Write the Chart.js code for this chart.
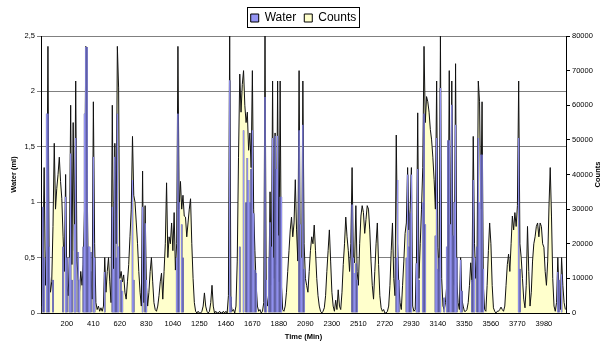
<!DOCTYPE html>
<html>
<head>
<meta charset="utf-8">
<script src="https://cdn.jsdelivr.net/npm/chart.js@4.4.1/dist/chart.umd.min.js"></script>
<style>
    html, body { margin: 0; padding: 0; background: #fff; }
    #wrap { width: 607px; height: 344px; }
</style>
</head>
<body>
<div id="wrap"><canvas id="waterChart" width="607" height="344"></canvas></div>
<script>
// one sample every 10 minutes, labels shown every 21 samples (200, 410, ...)
const timeStep = 10
const times = Array.from({length: 416}, (_, i) => i * timeStep)
const labelEvery = 21

// water (ml), one row per labelled interval
const water = [
    0,0.96,0.5,0,1.8,1.8,0.6,0,0,0.3,0,0,0,0,0,0,0,0.6,0,1.05,0.5,
    0,0.5,1.44,0.3,0,0.8,1.58,0,0.55,0.3,0,0,0.6,1.8,2.4,2.4,0.6,0.6,0.55,0,1.41,
    0.5,0,0,0,0,0,0,0,0.37,0,0,0,0,0,0.96,0.4,1.41,0.5,1.8,0.6,0,
    0.3,0.2,0,0,0,0,0,0,0,1.2,0.3,0,0,0,0,0,0,0.96,0,0.81,0.3,
    0,0,0,0,0,0,0,0,0,0,0,0,0,0,0,0,0,0,0,0,0,
    0,0,0.5,1.8,1.0,0,0.8,0.5,0,0,0,0,0,0,0,0,0,0,0,0,0,
    0,0,0,0,0,0,0,0,0,0,0,0,0,0,0,0,0,0,0,0,0,
    0,0,2.1,0.15,0,0,0,0,0,0,0.6,0,0,1.65,0,1.0,1.4,1.2,1.0,1.3,1.65,
    0.9,0.39,0.36,0,0,0,0,0,0,1.95,0.3,0,0.5,0.82,0.6,1.58,0.5,1.6,1.3,1.6,0.7,
    1.05,1.05,0,0,0,0,0,0,0,0,0,0,0,0,0,1.65,0.8,0.5,1.7,0.4,0,
    0,0,0,0,0,0,0,0,0,0,0,0,0,0,0,0,0,0,0,0,0,
    0,0,0,0,0,0,0,0,0,0,0,0,0,0,0,0.98,0.5,0.36,0.45,0.3,0,
    0,0,0,0,0,0,0,0,0,0,0,0,0,0,0,0,0,0,0,0,0,
    0,0,0,0,0,0,0,0,0.5,1.2,0.3,0,0,0,0,0,0.5,1.25,0.6,0.9,1.25,
    0,0,0,0.45,1.3,0.3,0,0,1.0,1.8,0.8,0,0,0,0,0,0,0,0.7,1.58,0.4,
    0.5,2.03,0,0,0.14,0,0.6,1.56,1.56,0.8,1.88,0.7,1.0,1.7,0.5,0,0,0.48,0.2,0,0,
    0,0,0,0,0,0.3,1.2,0.5,0,0.6,1.58,1.0,1.43,1.43,0.4,0,0,0,0,0,0,
    0,0,0,0,0,0,0,0,0,0,0,0,0,0,0,0,0,0,0,0,0,
    1.58,0.4,0,0,0,0,0,0,0,0,0,0,0,0,0,0,0,0,0,0,0,
    0,0,0,0,0,0,0,0,0,0,0.37,0.3,0,0.35,0,0,0
]

// activity counts
const counts = [
    2000,15000,42000,8000,20000,77000,12000,6000,9000,25000,49000,30000,36000,40000,45000,38000,33000,22000,12000,40000,8000,
    5000,15000,60000,14000,55000,18000,67000,15000,10000,6000,12000,8000,14000,30000,77000,40000,10000,6000,12000,4000,61000,
    20000,3000,1000,2000,500,1500,500,2000,16000,6000,12000,16000,9000,3000,60000,12000,49000,20000,77000,65000,10000,
    12000,9000,11000,6000,4000,9000,14000,22000,30000,51000,34000,32000,26000,20000,12000,6000,2000,41000,3000,31000,8000,
    2000,6000,12000,16000,9000,3000,1000,500,2000,5000,9000,11500,4000,12000,20000,37600,16000,22000,20000,26000,18000,
    29000,12400,20000,77000,30000,38000,30000,34000,28000,27700,22000,26000,30000,33000,20000,10000,3000,500,0,500,0,
    0,500,2000,5800,2000,500,0,500,3000,8000,2000,0,500,0,0,500,0,0,500,0,500,
    0,5000,80000,3000,500,1000,0,2000,15000,45000,69000,58000,66000,70000,60000,55000,58000,47000,52000,42000,70000,
    30000,18000,8000,2000,500,1000,0,500,3000,80000,5000,2000,6000,35000,8000,67000,10000,52000,14000,67000,9000,
    67000,8000,1000,500,2000,6000,12000,18000,24000,27700,22000,26000,38500,24000,15000,70000,12000,8000,67000,20000,10000,
    8000,6000,12000,18000,22000,20000,25400,18000,10000,5000,2000,500,0,500,1500,5000,12000,18000,24000,15000,6000,
    2000,500,3700,1000,6700,2000,1000,6000,14000,20000,27700,22000,18000,12000,20000,42000,16000,14500,31000,12000,8000,
    20000,28000,31000,29000,23000,27000,31000,30000,24000,15000,8000,4000,12000,20000,26000,14000,5000,1500,500,1000,0,
    0,500,2000,8000,18000,26000,10000,5000,51400,20000,8000,3000,1000,8000,15000,23000,26000,42000,24000,30000,42000,
    2000,500,1000,15000,57800,10000,20000,30000,42000,77000,55000,62500,61000,58000,53000,50000,45000,38500,30000,67000,19000,
    12000,80000,10000,2000,1000,3000,8000,15000,70000,12000,67000,10000,8000,72000,9000,3000,1000,16000,4000,2000,500,
    500,1000,3000,8000,14500,9000,51000,20000,10000,15000,67000,61000,30000,61000,8000,1000,500,8000,18000,26000,20000,
    8000,1500,500,0,500,500,1000,1700,1000,500,2000,8000,14000,17000,12000,20000,28000,24000,29000,25000,31000,
    67000,20000,16000,10000,4000,1500,8000,25000,12000,2000,6000,15000,20000,22000,25000,26000,22000,26000,25000,20000,19000,
    12000,8000,15000,30600,42000,28000,10000,2000,500,3000,16000,6000,1000,16000,8000,3000,1000
]

const fontFamily = '"Liberation Sans", Arial, sans-serif'

// frame round the legend + right axis title written bottom-to-top like Excel
const extras = {
    id: 'extras',
    afterInit(chart) {
        // a little more room under the legend
        const legend = chart.legend
        if (legend) {
            const fit = legend.fit.bind(legend)
            legend.fit = function () { fit(); this.height += 2 }
        }
    },
    afterDraw(chart) {
        const ctx = chart.ctx
        const boxes = chart.legend.legendHitBoxes
        if (boxes && boxes.length) {
            let x1 = Infinity, y1 = Infinity, x2 = -Infinity, y2 = -Infinity
            boxes.forEach(b => {
                x1 = Math.min(x1, b.left)
                y1 = Math.min(y1, b.top)
                x2 = Math.max(x2, b.left + b.width)
                y2 = Math.max(y2, b.top + b.height)
            })
            ctx.save()
            ctx.strokeStyle = '#000'
            ctx.lineWidth = 1
            ctx.strokeRect(Math.round(x1 - 4) + 0.5, Math.round(y1 - 5) + 0.5, Math.round(x2 - x1 + 6), Math.round(y2 - y1 + 8))
            ctx.restore()
        }
        const area = chart.chartArea
        ctx.save()
        ctx.translate(598, (area.top + area.bottom) / 2)
        ctx.rotate(-Math.PI / 2)
        ctx.font = 'bold 7.5px ' + fontFamily
        ctx.fillStyle = '#000'
        ctx.textAlign = 'center'
        ctx.textBaseline = 'middle'
        ctx.fillText('Counts', 0, 0)
        ctx.restore()
    }
}

new Chart(document.getElementById('waterChart'), {
    type: 'bar',
    data: {
        labels: times,
        datasets: [{
            type: 'bar',
            label: 'Water',
            data: water,
            yAxisID: 'y',
            backgroundColor: '#9595f5',
            borderColor: '#2a2a5a',
            borderWidth: {top: 0, bottom: 0, left: 0.4, right: 0.4},
            borderSkipped: false,
            barPercentage: 1,
            categoryPercentage: 1,
            order: 0
        }, {
            type: 'line',
            label: 'Counts',
            data: counts,
            yAxisID: 'y1',
            backgroundColor: '#ffffcc',
            borderColor: '#111',
            borderWidth: 1,
            pointRadius: 0,
            tension: 0,
            fill: 'origin',
            order: 1
        }]
    },
    options: {
        responsive: false,
        maintainAspectRatio: false,
        animation: false,
        devicePixelRatio: 1,
        layout: {padding: {top: 4, left: 0, right: 0, bottom: 0}},
        plugins: {
            tooltip: {enabled: false},
            legend: {
                position: 'top',
                labels: {
                    font: {family: fontFamily, size: 12},
                    color: '#000',
                    boxWidth: 8,
                    boxHeight: 8,
                    padding: 8,
                    generateLabels(chart) {
                        const items = Chart.defaults.plugins.legend.labels.generateLabels(chart)
                        items.forEach(it => { it.strokeStyle = '#000'; it.lineWidth = 1 })
                        return items
                    }
                }
            }
        },
        scales: {
            x: {
                offset: true,
                grid: {display: false, drawTicks: false},
                border: {color: '#000'},
                ticks: {
                    autoSkip: false,
                    maxRotation: 0,
                    minRotation: 0,
                    padding: 6,
                    color: '#000',
                    font: {family: fontFamily, size: 7.5},
                    callback: (v, i) => (i % labelEvery === labelEvery - 1) ? String(times[i]) : ''
                },
                title: {
                    display: true,
                    text: 'Time (Min)',
                    color: '#000',
                    font: {family: fontFamily, size: 7.5, weight: 'bold'},
                    padding: {top: 0, bottom: 3}
                },
                afterFit: s => { s.height = 31 }
            },
            y: {
                position: 'left',
                min: 0,
                max: 2.5,
                ticks: {
                    stepSize: 0.5,
                    padding: 2,
                    color: '#000',
                    font: {family: fontFamily, size: 7.5},
                    callback: v => String(v).replace('.', ',')
                },
                grid: {color: '#808080', tickLength: 4},
                border: {color: '#000'},
                title: {
                    display: true,
                    text: 'Water (ml)',
                    color: '#000',
                    font: {family: fontFamily, size: 7.5, weight: 'bold'},
                    padding: {top: 9, bottom: 0}
                },
                afterFit: s => { s.width = 41 }
            },
            y1: {
                position: 'right',
                min: 0,
                max: 80000,
                ticks: {
                    stepSize: 10000,
                    padding: 2,
                    color: '#000',
                    font: {family: fontFamily, size: 7.5},
                    callback: v => String(v)
                },
                grid: {drawOnChartArea: false, color: '#000', tickLength: 4},
                border: {color: '#000'},
                afterFit: s => { s.width = 41 }
            }
        }
    },
    plugins: [extras]
})
</script>
</body>
</html>
